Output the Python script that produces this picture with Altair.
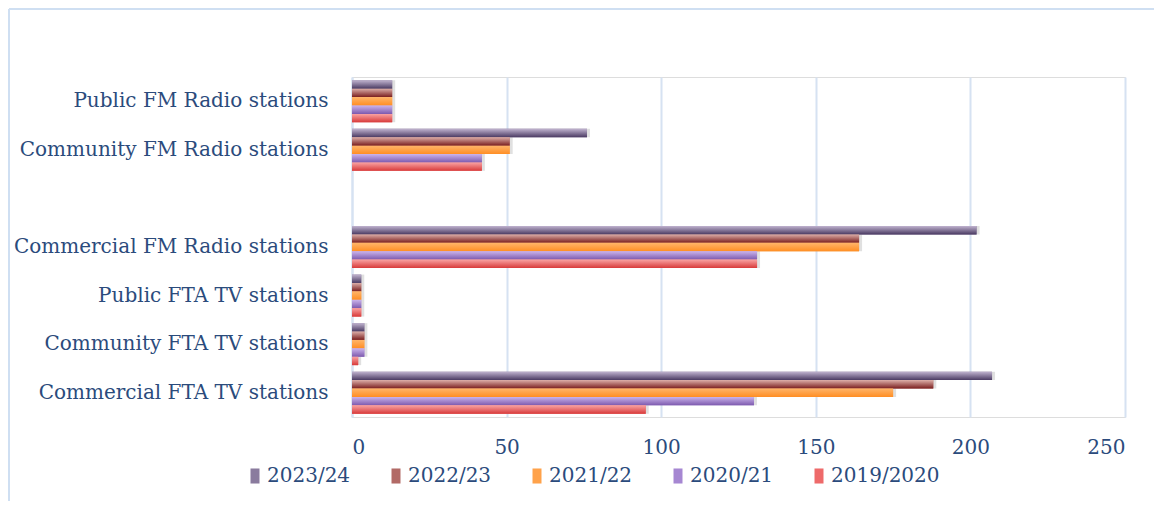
import altair as alt
import pandas as pd

# ---- data ----
categories = [
    "Public FM Radio stations",
    "Community FM Radio stations",
    " ",
    "Commercial FM Radio stations",
    "Public FTA TV stations",
    "Community FTA TV stations",
    "Commercial FTA TV stations",
]
data_categories = [
    "Public FM Radio stations",
    "Community FM Radio stations",
    "Commercial FM Radio stations",
    "Public FTA TV stations",
    "Community FTA TV stations",
    "Commercial FTA TV stations",
]
series = ["2023/24", "2022/23", "2021/22", "2020/21", "2019/2020"]
v_2023_24 = [13, 76, 202, 3, 4, 207]
v_2022_23 = [13, 51, 164, 3, 4, 188]
v_2021_22 = [13, 51, 164, 3, 4, 175]
v_2020_21 = [13, 42, 131, 3, 4, 130]
v_2019_2020 = [13, 42, 131, 3, 2, 95]
x_ticks = [0, 50, 100, 150, 200, 250]

# styles
top_colors = ["#c0b3cf", "#dcaea8", "#ffb56a", "#cbb4ec", "#f9a3a3"]
bottom_colors = ["#4a3a62", "#7a1e1e", "#ff8e24", "#7d5aae", "#d83a3a"]
mid_colors = ["#8a7b9e", "#b26a66", "#ffa24a", "#a687d2", "#ee6a6a"]
text_color = "#2b4b7c"
grid_color = "#d6e2f2"
font = "DejaVu Serif"
fsize = 20

values = [v_2023_24, v_2022_23, v_2021_22, v_2020_21, v_2019_2020]
rows = []
for s, vals in zip(series, values):
    for c, v in zip(data_categories, vals):
        rows.append({"category": c, "series": s, "value": v})
df = pd.DataFrame(rows)

W, H = 773, 340

base = alt.Chart(df).encode(
    y=alt.Y(
        "category:N",
        scale=alt.Scale(domain=categories, paddingInner=0.135, paddingOuter=0.0675),
        axis=alt.Axis(
            title=None,
            ticks=False,
            labelPadding=24,
            labelFontSize=fsize,
            labelFont=font,
            labelColor=text_color,
            domainColor=grid_color,
            domainWidth=2,
            grid=False,
            labelLimit=400,
        ),
    ),
    yOffset=alt.YOffset("series:N", scale=alt.Scale(domain=series, paddingInner=0, paddingOuter=0)),
    x=alt.X(
        "value:Q",
        scale=alt.Scale(domain=[0, 250], nice=False),
        axis=alt.Axis(
            title=None,
            values=x_ticks,
            ticks=False,
            domain=False,
            labelPadding=20,
            labelFontSize=fsize,
            labelFont=font,
            labelColor=text_color,
            gridColor=grid_color,
            gridWidth=2,
        ),
    ),
)

shadow_layer = base.mark_bar(color="#000000", opacity=0.12, xOffset=3, yOffset=3)

legend_layer = base.mark_bar().encode(
    color=alt.Color(
        "series:N",
        scale=alt.Scale(domain=series, range=mid_colors),
        legend=alt.Legend(
            title=None,
            orient="none",
            legendX=-107,
            legendY=389,
            direction="horizontal",
            symbolType="M-1,-1.67H1V1.67H-1Z",
            symbolSize=81,
            symbolStrokeWidth=0,
            labelFontSize=fsize,
            labelFont=font,
            labelColor=text_color,
            labelOffset=2,
            columnPadding=35,
        ),
    )
)

grad_layers = []
for s, tc, bc in zip(series, top_colors, bottom_colors):
    grad = alt.LinearGradient(
        gradient="linear",
        stops=[
            alt.GradientStop(color=tc, offset=0),
            alt.GradientStop(color=bc, offset=1),
        ],
        x1=0, x2=0, y1=0, y2=1,
    )
    grad_layers.append(
        base.transform_filter(alt.datum.series == s).mark_bar(color=grad)
    )

frame = alt.Chart(pd.DataFrame({"a": [0]}))
border_top = frame.mark_rule(color="#cfdff2", strokeWidth=2).encode(
    x=alt.value(-343), x2=alt.value(802), y=alt.value(-68)
)
border_left = frame.mark_rule(color="#cfdff2", strokeWidth=2).encode(
    x=alt.value(-343), y=alt.value(-68), y2=alt.value(424)
)

chart = alt.layer(shadow_layer, legend_layer, *grad_layers, border_top, border_left).properties(
    width=W, height=H, padding=0
).configure_view(stroke=None).configure(background="white")

chart.save("out.html", embed_options={"renderer": "svg", "actions": False})
